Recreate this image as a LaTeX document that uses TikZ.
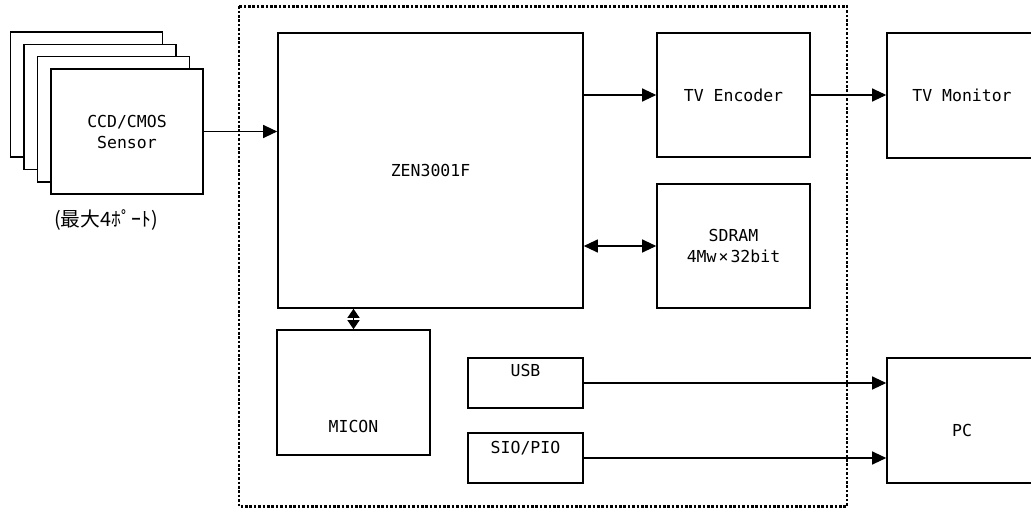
\documentclass[tikz,border=0pt]{standalone}
\usepackage{fontspec}
\setmainfont{DejaVu Sans Mono}
\newfontfamily\jpfont{Noto Sans CJK JP}[Scale=1.2]
\usetikzlibrary{arrows.meta}
\newcommand\boxfont{\fontsize{16.5}{21}\selectfont}

\begin{document}
\begin{tikzpicture}[x=1pt,y=-1pt,
  box/.style={draw, line width=1.6pt, fill=white, inner sep=0pt, align=center, font=\boxfont},
  every label/.append style={font=\boxfont, inner sep=0pt},
  link/.style={line width=1.1pt, -{Triangle[length=14pt,width=13pt]}},
  dlink/.style={line width=1.1pt, {Triangle[length=14pt,width=13pt]}-{Triangle[length=14pt,width=13pt]}},
  shortdlink/.style={line width=1.1pt, {Triangle[length=9pt,width=12pt]}-{Triangle[length=9pt,width=12pt]}}]
  \clip (0,0) rectangle (1031,508);
  % sensor stack
  \foreach \i in {3,2,1}
    \node[box, minimum width=152, minimum height=125] (sens\i) at (127-13.5*\i,131.5-12.3*\i) {};
  \node[box, minimum width=152, minimum height=125] (sens0) at (127,131.5) {CCD/CMOS\\Sensor};
  \node[font=\boxfont] (ports) at (106,220) {\jpfont (最大4ﾎﾟｰﾄ)};
  % chip border
  \draw[line width=2.6pt, dash pattern=on 2.6pt off 1.8pt] (239,6.3) rectangle (847,506.3);
  \node[box, minimum width=305, minimum height=275] (zen) at (430.5,170.5) {ZEN3001F};
  \node[box, minimum width=153, minimum height=124] (enc) at (733.5,95) {TV Encoder};
  \node[box, minimum width=153, minimum height=124] (sdram) at (733.5,246) {SDRAM\\4Mw\kern2pt×\kern2pt32bit};
  \node[box, minimum width=153, minimum height=125, label={[yshift=-34pt]center:MICON}] (micon) at (353.5,392.5) {};
  \node[box, minimum width=115, minimum height=50, label={[anchor=north, yshift=-7pt]north:USB}] (usb) at (525.5,383) {};
  \node[box, minimum width=115, minimum height=50, label={[anchor=north, yshift=-9pt]north:SIO/PIO}] (sio) at (525.5,458) {};
  % outside
  \node[box, minimum width=150, minimum height=125] (mon) at (962,95.5) {TV Monitor};
  \node[box, minimum width=150, minimum height=125, label={[yshift=-9.5pt]center:PC}] (pc) at (962,420.5) {};
  % connections
  \draw[link] (sens0.east) -- (sens0.east -| zen.west);
  \draw[link] (enc.west -| zen.east) -- (enc.west);
  \draw[link] (enc.east) -- (enc.east -| mon.west);
  \draw[dlink] (sdram.west -| zen.east) -- (sdram.west);
  \draw[shortdlink] (micon.north) -- (micon.north |- zen.south);
  \draw[link] (usb.east) -- (usb.east -| pc.west);
  \draw[link] (sio.east) -- (sio.east -| pc.west);
\end{tikzpicture}
\end{document}
